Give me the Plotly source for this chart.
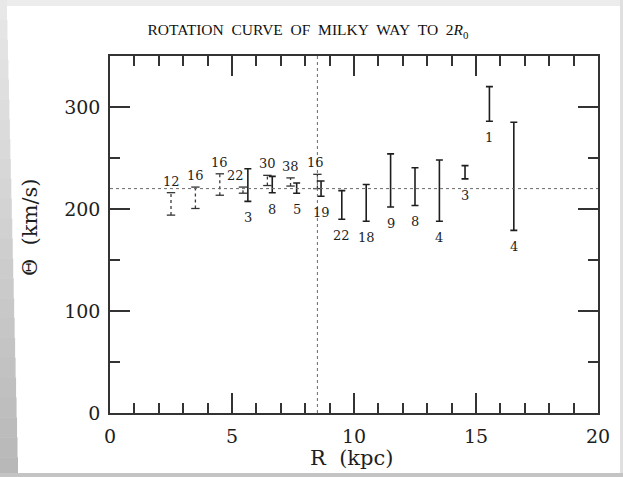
import plotly.graph_objects as go

# ---------------- data ----------------
# HI / dotted-bar points (labels above the bars)
R_dot = [2.5, 3.5, 4.5, 5.45, 6.45, 7.4, 8.5]
V_dot = [205, 211, 224, 218.5, 228, 226.5, 227]
E_dot = [11, 10.5, 10.5, 3, 5, 4, 7]
N_dot = [12, 16, 16, 22, 30, 38, 16]

# solid-bar points (labels below the bars)
R_sol = [5.65, 6.65, 7.65, 8.65, 9.5, 10.5, 11.5, 12.5, 13.5, 14.55, 15.55, 16.55]
V_sol = [223.5, 224, 220.5, 220, 204, 206, 228, 222, 218, 236, 303, 232]
E_sol = [16, 8, 5, 7.5, 14, 18, 26, 18.5, 30, 6.5, 17, 53]
N_sol = [3, 8, 5, 19, 22, 18, 9, 8, 4, 3, 1, 4]

R0 = 8.5       # solar radius (vertical dotted line)
THETA0 = 220   # solar rotation speed (horizontal dotted line)

X_RANGE = [0, 20]
Y_RANGE = [0, 350]
X_TICKS = [0, 5, 10, 15, 20]
Y_TICKS = [0, 100, 200, 300]

TITLE = "ROTATION\u00a0 CURVE\u00a0 OF\u00a0 MILKY\u00a0 WAY\u00a0 TO\u00a0 2<i>R</i><sub>0</sub>"

# ---------------- style ----------------
INK = "#1e1e1e"
SERIF = "DejaVu Serif"
LABEL_XSHIFT_DOT = {3: -7, 6: -2}   # label nudges to avoid overlaps

fig = go.Figure()

# dotted error bars: vertical dotted segments
xs, ys = [], []
for r, v, e in zip(R_dot, V_dot, E_dot):
    xs += [r, r, None]
    ys += [v - e, v + e, None]
fig.add_trace(go.Scatter(x=xs, y=ys, mode="lines",
                         line=dict(color="#3a3a3a", width=1.3, dash="dot"),
                         hoverinfo="skip", showlegend=False))
# caps of dotted bars
fig.add_trace(go.Scatter(
    x=R_dot + R_dot,
    y=[v + e for v, e in zip(V_dot, E_dot)] + [v - e for v, e in zip(V_dot, E_dot)],
    mode="markers",
    marker=dict(symbol="line-ew", size=6, line=dict(color="#333", width=1.3)),
    hoverinfo="skip", showlegend=False))

# solid error bars
fig.add_trace(go.Scatter(
    x=R_sol, y=V_sol, mode="markers",
    marker=dict(size=1, color="rgba(0,0,0,0)"),
    error_y=dict(type="data", array=E_sol, symmetric=True,
                 color=INK, thickness=1.6, width=3.5),
    hoverinfo="skip", showlegend=False))

# reference lines
fig.add_shape(type="line", xref="x", yref="y", x0=X_RANGE[0], x1=X_RANGE[1],
              y0=THETA0, y1=THETA0, line=dict(color="#6a6a6a", width=1, dash="dot"))
fig.add_shape(type="line", xref="x", yref="y", x0=R0, x1=R0,
              y0=Y_RANGE[0], y1=Y_RANGE[1], line=dict(color="#6a6a6a", width=1, dash="dot"))

# number labels
for i, (r, v, e, n) in enumerate(zip(R_dot, V_dot, E_dot, N_dot)):
    fig.add_annotation(x=r, y=v + e, text=str(n), showarrow=False,
                       yanchor="bottom", yshift=2, xshift=LABEL_XSHIFT_DOT.get(i, 0),
                       font=dict(family=SERIF, size=13, color=INK))
for r, v, e, n in zip(R_sol, V_sol, E_sol, N_sol):
    fig.add_annotation(x=r, y=v - e, text=str(n), showarrow=False,
                       yanchor="top", yshift=-7,
                       font=dict(family=SERIF, size=13, color=INK))

# axis titles
fig.add_annotation(xref="paper", yref="paper", x=(351 - 110) / 488, y=(413 - 458) / 357,
                   text="R  (kpc)", showarrow=False, xanchor="center", yanchor="middle",
                   font=dict(family=SERIF, size=21, color=INK))
fig.add_annotation(xref="paper", yref="paper", x=(30 - 110) / 488, y=(413 - 228) / 357,
                   text="Θ  (km/s)", showarrow=False, textangle=-90,
                   xanchor="center", yanchor="middle",
                   font=dict(family=SERIF, size=21, color=INK))

# frame strips (scan edges)
def px_rect(x0, x1, y0, y1, color):
    fig.add_shape(type="rect", xref="paper", yref="paper", layer="below",
                  x0=(x0 - 110) / 488, x1=(x1 - 110) / 488,
                  y0=(413 - y1) / 357, y1=(413 - y0) / 357,
                  line=dict(width=0), fillcolor=color)

px_rect(0, 623, 0, 6, "#ececec")
px_rect(620, 623, 0, 477, "#e0e0e0")
NSTEP = 24
for k in range(NSTEP):
    t = k / (NSTEP - 1)
    g = int(0xe8 - t * (0xe8 - 0xb8))
    w = 7 + 11 * t
    px_rect(0, w, k * 477 / NSTEP, (k + 1) * 477 / NSTEP + 0.5, f"rgb({g},{g},{g})")
px_rect(0, 623, 473, 477, "#c4c4c4")

axis_common = dict(
    showgrid=False, zeroline=False, showline=True, linecolor="#333", linewidth=1.6,
    mirror="allticks", ticks="inside", tickcolor="#333", tickwidth=1.6,
    tickfont=dict(family=SERIF, size=19, color=INK),
)
fig.update_xaxes(range=X_RANGE, tickvals=X_TICKS, ticklen=20,
                 minor=dict(dtick=1, ticklen=10, ticks="inside", tickcolor="#333", tickwidth=1.6),
                 ticklabelstandoff=5, **axis_common)
fig.update_yaxes(range=Y_RANGE, tickvals=Y_TICKS, ticklen=20,
                 minor=dict(dtick=50, ticklen=10, ticks="inside", tickcolor="#333", tickwidth=1.6),
                 ticklabelstandoff=4, **axis_common)

fig.update_layout(
    width=623, height=477,
    margin=dict(l=110, r=25, t=56, b=64),
    paper_bgcolor="white", plot_bgcolor="rgba(0,0,0,0)",
    title=dict(text=TITLE,
               x=308 / 623, xref="container", xanchor="center",
               y=1 - 30 / 477, yref="container", yanchor="middle",
               font=dict(family="Liberation Serif", size=15.5, color="#111")),
)

fig.write_html("out.html")
